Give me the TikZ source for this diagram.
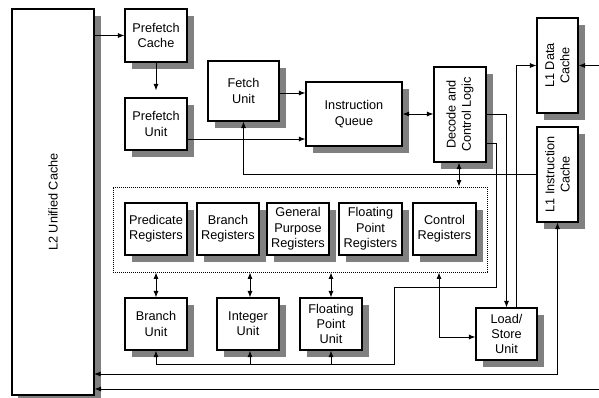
\documentclass[tikz,border=0pt]{standalone}
\usepackage{fontspec}
\setmainfont{Liberation Sans}
\usetikzlibrary{arrows.meta,shadows}
\definecolor{shadowgray}{HTML}{808080}
\newcommand{\lab}{\fontsize{12.7bp}{15.3bp}\selectfont}
\tikzset{
  blk/.style={draw, fill=white, line width=1.1bp, align=center, font=\lab,
    inner sep=0pt,
    drop shadow={shadow xshift=6.5bp, shadow yshift=-6.5bp, fill=shadowgray, opacity=1}},
  txt/.style={align=center, font=\lab, inner sep=0pt},
  wire/.style={line width=0.9bp},
  arr/.style={wire, -{Latex[length=6.5bp,width=5bp]}},
  darr/.style={wire, {Latex[length=6.5bp,width=5bp]}-{Latex[length=6.5bp,width=5bp]}},
}
\begin{document}
\begin{tikzpicture}[x=1bp,y=-1bp]
\useasboundingbox (0,0) rectangle (599,397);
% blocks
\node[blk, minimum width=82bp, minimum height=386bp] (L2) at (53,202) {};
\node[txt, rotate=90] (L2t) at (L2.center) {L2 Unified Cache};
\node[blk, minimum width=62bp, minimum height=53bp] (PC) at (156,35.5) {Prefetch\\Cache};
\node[blk, minimum width=62bp, minimum height=52bp] (PU) at (156,124) {Prefetch\\Unit};
\node[blk, minimum width=71bp, minimum height=60bp] (FU) at (243.5,91) {Fetch\\Unit};
\node[blk, minimum width=96bp, minimum height=64bp] (IQ) at (354,114) {Instruction\\Queue};
\node[blk, minimum width=52bp, minimum height=95bp] (DC) at (460,114.5) {};
\node[txt, rotate=90] (DCt) at (DC.center) {Decode and\\Control Logic};
\node[blk, minimum width=41bp, minimum height=95bp] (L1D) at (557.5,65.5) {};
\node[txt, rotate=90] (L1Dt) at (L1D.center) {L1 Data\\Cache};
\node[blk, minimum width=41bp, minimum height=95bp] (L1I) at (557.5,174.5) {};
\node[txt, rotate=90] (L1It) at (L1I.center) {L1 Instruction\\Cache};
% register group
\node[draw, line width=0.8bp, dash pattern=on 0.9bp off 1.1bp, minimum width=374bp, minimum height=85bp, inner sep=0pt] (regs) at (300,229.5) {};
\node[blk, minimum width=62bp, minimum height=52bp] (PR) at (156,229) {Predicate\\Registers};
\node[blk, minimum width=62bp, minimum height=52bp] (BR) at (228,229) {Branch\\Registers};
\node[blk, minimum width=62bp, minimum height=52bp] (GPR) at (298,229) {General\\Purpose\\Registers};
\node[blk, minimum width=63bp, minimum height=52bp] (FPR) at (370.5,229) {Floating\\Point\\Registers};
\node[blk, minimum width=63bp, minimum height=52bp] (CR) at (444.5,229) {Control\\Registers};
% units
\node[blk, minimum width=62bp, minimum height=52bp] (BU) at (156,324) {Branch\\Unit};
\node[blk, minimum width=62bp, minimum height=52bp] (IU) at (248,324) {Integer\\Unit};
\node[blk, minimum width=62bp, minimum height=52bp] (FPU) at (331,324) {Floating\\Point\\Unit};
\node[blk, minimum width=61bp, minimum height=52bp] (LS) at (506.5,334) {Load/\\Store\\Unit};
% helper coordinates
\coordinate (j1) at (496,287);
\coordinate (j2) at (394,287);
\coordinate (bus) at (394,364);
\coordinate (c1) at (439,337);
\coordinate (r1) at (599,65.5);
\coordinate (r2) at (599,389);
\coordinate (b1) at (94,374);
% connectors
\draw[arr] (L2.east |- PC.west) -- (PC.west);
\draw[arr, shorten >=7bp] (PC.south) -- (PU.north);
\draw[arr] ([yshift=-2bp]FU.east) -- ([yshift=-2bp]FU.east -| IQ.west);
\draw[arr] ([yshift=-15bp]PU.east) -- ([yshift=-15bp]PU.east -| IQ.west);
\draw[arr] (L1I.west) -| (FU.south);
\draw[darr] (IQ.east) -- (IQ.east -| DC.west);
\draw[darr] ([xshift=-1bp]DC.south) -- ([xshift=-1bp]DC.south |- regs.north);
\draw[arr] ([yshift=0.5bp]DC.east) -| (LS.north);
\draw[wire] ([yshift=-28.5bp]DC.east) -| (j1) -- (j2) -- (bus) -- (BU.south |- bus);
\draw[arr] (BU.south |- bus) -- (BU.south);
\draw[arr] ([xshift=2bp]IU.south |- bus) -- ([xshift=2bp]IU.south);
\draw[arr] (FPU.south |- bus) -- (FPU.south);
\draw[darr] (BU.north |- regs.south) -- (BU.north);
\draw[darr] ([xshift=2bp]IU.north |- regs.south) -- ([xshift=2bp]IU.north);
\draw[darr] (FPU.north |- regs.south) -- (FPU.north);
\draw[darr] (regs.south -| c1) -- (c1) -- (c1 -| LS.west);
\draw[arr] ([xshift=9.5bp]LS.north) |- (L1D.west);
\draw[arr] (r1) -- (L1D.east);
\draw[darr] (L1I.south) |- (b1);
\draw[arr] (r2) -- (L2.east |- r2);
\end{tikzpicture}
\end{document}
